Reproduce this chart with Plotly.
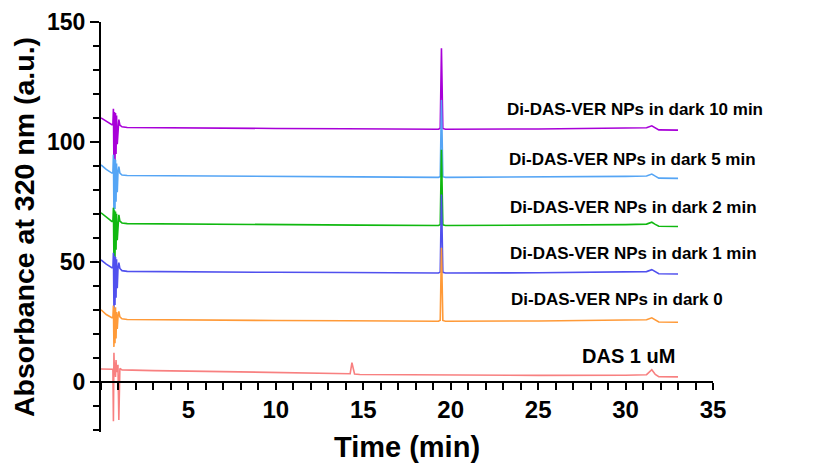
import plotly.graph_objects as go

# Retention time sampling points (min)
time = [0.0, 0.3, 0.62, 0.68, 0.71, 0.74, 0.77, 0.80, 0.83, 0.86, 0.89, 0.93, 0.97,
        1.02, 1.08, 1.2, 1.5, 3.0, 6.0, 10.0, 14.0, 14.25, 14.35, 14.5, 14.8,
        19.3, 19.4, 19.47, 19.55, 19.7, 25.0, 30.0, 31.2, 31.5, 31.7, 31.9, 33.0]

das_1uM = [5.3, 5.3, 5.2, 5.2, -16.5, 12.0, 3.0, 8.0, 2.0, 9.0, 4.0, 6.0, 7.0,
           -16.0, 5.5, 4.9, 4.8, 4.6, 4.3, 3.8, 3.2, 3.3, 7.9, 3.2, 3.0,
           2.7, 2.7, 2.7, 2.7, 2.7, 2.6, 2.7, 2.9, 5.0, 3.0, 2.1, 2.0]

dark_0 = [30.0, 28.0, 26.7, 26.7, 31.7, 14.5, 30.5, 16.0, 31.0, 18.0, 29.0, 22.0, 27.0,
          29.3, 27.0, 26.2, 25.9, 25.8, 25.7, 25.5, 25.4, 25.4, 25.4, 25.4, 25.4,
          25.2, 25.6, 55.8, 25.5, 25.2, 25.3, 25.6, 25.8, 26.6, 25.7, 24.9, 24.8]

dark_1min = [50.8, 49.0, 47.5, 47.5, 53.7, 30.0, 52.5, 32.0, 52.0, 35.0, 51.0, 39.0, 47.0,
             49.6, 47.2, 46.3, 46.0, 45.9, 45.8, 45.6, 45.5, 45.5, 45.5, 45.5, 45.5,
             45.3, 45.7, 78.0, 45.6, 45.3, 45.4, 45.7, 45.9, 46.7, 45.8, 45.0, 44.9]

dark_2min = [70.4, 68.5, 66.8, 66.8, 72.5, 50.0, 71.5, 52.0, 71.0, 55.0, 70.0, 59.0, 67.0,
             69.6, 67.0, 66.2, 65.9, 65.8, 65.6, 65.4, 65.3, 65.3, 65.3, 65.3, 65.3,
             65.1, 65.5, 96.7, 65.4, 65.1, 65.2, 65.5, 65.7, 66.5, 65.6, 64.8, 64.7]

dark_5min = [90.4, 88.5, 87.0, 87.0, 94.6, 70.0, 93.0, 72.0, 92.5, 75.0, 91.0, 79.0, 87.0,
             89.7, 87.0, 86.2, 86.0, 85.9, 85.7, 85.5, 85.4, 85.4, 85.4, 85.4, 85.4,
             85.2, 85.6, 117.5, 85.5, 85.2, 85.3, 85.6, 85.8, 86.6, 85.7, 84.9, 84.8]

dark_10min = [110.0, 108.5, 107.2, 107.2, 113.8, 90.0, 112.5, 92.0, 112.0, 95.0, 111.0, 99.0, 107.0,
              109.3, 107.0, 106.3, 106.0, 105.9, 105.8, 105.6, 105.5, 105.5, 105.5, 105.5, 105.5,
              105.3, 105.7, 139.0, 105.6, 105.3, 105.4, 105.7, 105.9, 106.7, 105.8, 105.0, 104.9]

series_names = ["Di-DAS-VER NPs in dark 10 min", "Di-DAS-VER NPs in dark 5 min",
                "Di-DAS-VER NPs in dark 2 min", "Di-DAS-VER NPs in dark 1 min",
                "Di-DAS-VER NPs in dark 0", "DAS 1 uM"]
series_values = [dark_10min, dark_5min, dark_2min, dark_1min, dark_0, das_1uM]
series_colors = ["#a800d8", "#55a5f5", "#10b810", "#5050ee", "#ff9a38", "#f88080"]

# label anchor positions (data coordinates)
label_x = [23.1, 23.2, 23.25, 23.25, 23.35, 27.4]
label_y = [113.3, 92.6, 72.6, 53.4, 34.3, 10.9]
label_size = [17, 17, 17, 17, 17, 20]

x_ticks = [5, 10, 15, 20, 25, 30, 35]
y_ticks = [0, 50, 100, 150]

FONT = "Liberation Sans, Arial, sans-serif"

fig = go.Figure()
for name, vals, col in zip(series_names, series_values, series_colors):
    fig.add_trace(go.Scatter(x=time, y=vals, mode="lines", name=name,
                             line=dict(color=col, width=1.6), showlegend=False))

for name, lx, ly, fs in zip(series_names, label_x, label_y, label_size):
    fig.add_annotation(x=lx, y=ly, xref="x", yref="y", text="<b>%s</b>" % name,
                       showarrow=False, xanchor="left", yanchor="middle",
                       font=dict(family=FONT, size=fs, color="black"))

ymin, ymax = -21, 150
fig.update_layout(
    width=811, height=457,
    margin=dict(l=93, r=106, t=14, b=33),
    paper_bgcolor="white", plot_bgcolor="white",
    font=dict(family=FONT, color="black"),
    xaxis=dict(range=[0, 35], showgrid=False, zeroline=False,
               showline=True, linecolor="black", linewidth=2,
               anchor="free", position=(0 - ymin) / (ymax - ymin),
               tickmode="array", tickvals=x_ticks,
               ticktext=["<b>%d</b>" % v for v in x_ticks],
               ticks="outside", ticklen=7, tickwidth=2, tickcolor="black",
               tickfont=dict(family=FONT, size=24),
               minor=dict(dtick=1, ticks="outside", ticklen=7, tickwidth=2, tickcolor="black"),
               title=dict(text="<b>Time (min)</b>", font=dict(family=FONT, size=29), standoff=13),
               automargin=False),
    yaxis=dict(range=[ymin, ymax], showgrid=False, zeroline=False,
               showline=True, linecolor="black", linewidth=2,
               tickmode="array", tickvals=y_ticks,
               ticktext=["<b>%d</b>" % v for v in y_ticks],
               ticks="outside", ticklen=9, tickwidth=2, tickcolor="black",
               tickfont=dict(family=FONT, size=23),
               minor=dict(tick0=0, dtick=10, ticks="outside", ticklen=6, tickwidth=2, tickcolor="black"),
               title=dict(text="<b>Absorbance at 320 nm (a.u.)</b>", font=dict(family=FONT, size=28.5), standoff=6),
               automargin=False),
)

fig.write_html("out.html")
